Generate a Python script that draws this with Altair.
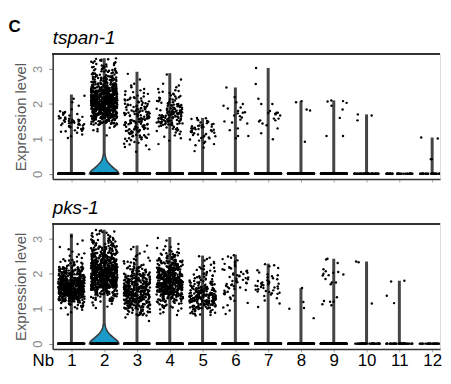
import altair as alt
import pandas as pd

# ---------------- data ----------------
CLUSTERS = list(range(1, 13))
BIN_START = 0.6      # histogram bins (for dense clouds) start here
BIN_WIDTH = 0.2

# tspan-1 : top of each violin (max expression), zero-cell counts, dense clouds as bin counts
TSPAN_MAX = [2.27, 3.31, 2.92, 2.88, 1.60, 2.47, 3.03, 2.08, 2.10, 1.70, 0.0, 1.04]
TSPAN_ZEROS = [200, 110, 200, 200, 200, 200, 200, 200, 200, 45, 35, 35]
TSPAN_HIST = {
    1: [0, 0, 4, 16, 22, 10, 2, 2, 1],
    2: [0, 0, 1, 6, 40, 110, 150, 150, 120, 70, 40, 25, 15, 8],
    3: [3, 8, 18, 25, 28, 28, 22, 15, 8, 4, 1, 1],
    4: [0, 2, 5, 12, 35, 45, 25, 15, 10, 4, 1, 1],
    5: [2, 6, 12, 18, 10, 1],
}
TSPAN_POINTS = {
    6: [2.47, 2.2, 2.05, 2.0, 1.95, 1.9, 1.87, 1.8, 1.76, 1.75, 1.73, 1.67, 1.65,
        1.61, 1.55, 1.5, 1.47, 1.44, 1.3, 1.25, 1.08, 1.08, 1.02],
    7: [3.03, 2.57, 2.15, 2.0, 2.0, 1.8, 1.75, 1.75, 1.74, 1.72, 1.7, 1.67, 1.58,
        1.58, 1.53, 1.53, 1.5, 1.44, 1.39, 1.3, 1.16, 0.99],
    8: [2.08, 2.05, 1.84, 1.81, 0.92],
    9: [2.1, 2.08, 2.07, 2.03, 1.95, 1.84, 1.6, 1.08, 1.08],
    10: [1.7, 1.67, 1.53],
    12: [1.04, 1.01, 0.94, 0.42, 0.42],
}

# pks-1
PKS_MAX = [3.15, 3.26, 2.81, 3.05, 2.52, 2.55, 2.29, 1.59, 2.43, 2.35, 1.80, 0.0]
PKS_ZEROS = [200, 110, 200, 200, 200, 200, 200, 200, 200, 50, 45, 35]
PKS_HIST = {
    1: [0, 3, 20, 80, 150, 130, 70, 50, 15, 6, 3, 2, 1],
    2: [0, 0, 5, 20, 50, 120, 160, 140, 90, 60, 40, 25, 12, 4],
    3: [2, 25, 50, 70, 80, 70, 50, 25, 12, 5, 3, 1],
    4: [0, 5, 15, 40, 90, 110, 100, 70, 40, 20, 8, 2, 1],
    5: [0, 15, 40, 70, 50, 25, 15, 10, 5, 3],
    6: [0, 2, 3, 4, 8, 12, 12, 10, 6, 4],
    7: [0, 0, 2, 3, 12, 15, 7, 3, 3],
}
PKS_POINTS = {
    8: [1.59, 1.19, 1.02, 1.0, 0.73],
    9: [2.43, 2.41, 2.31, 2.13, 2.07, 2.05, 2.03, 2.0, 1.98, 1.96, 1.95, 1.85,
        1.75, 1.75, 1.7, 1.33, 1.22, 1.2, 1.2, 1.13, 1.1],
    10: [2.35, 2.33, 1.15],
    11: [1.8, 1.78, 1.37, 1.16],
}

# outline of the filled violin base of cluster 2 (height, half width in cluster units)
VIOLIN_CLUSTER = 2
VIOLIN_Y = [0.0, 0.05, 0.10, 0.15, 0.20, 0.25, 0.30, 0.35, 0.40, 0.45, 0.50, 0.55]
VIOLIN_HALF = [0.45, 0.43, 0.38, 0.31, 0.25, 0.19, 0.14, 0.10, 0.07, 0.05, 0.035, 0.025]

GENES = ["tspan-1", "pks-1"]

# ---------------- tables ----------------
def expand(hist, maxv):
    vals = []
    for b, n in enumerate(hist):
        lo = BIN_START + b * BIN_WIDTH
        hi = min(lo + BIN_WIDTH, maxv)
        for k in range(n):
            vals.append(round(lo + (k + 0.5) / n * (hi - lo), 4))
    return vals


def cells(maxes, zeros, hist, pts):
    rows = []
    for c in CLUSTERS:
        vals = [0.0] * zeros[c - 1]
        if c in hist:
            vals += expand(hist[c], maxes[c - 1])
        else:
            vals += pts.get(c, [])
        for v in vals:
            rows.append({"cluster": c, "value": v})
    df = pd.DataFrame(rows)
    df["idx"] = range(len(df))
    return df


def tops(maxes):
    return pd.DataFrame({"cluster": CLUSTERS, "top": maxes})


violin_df = pd.DataFrame({"cluster": VIOLIN_CLUSTER, "y": VIOLIN_Y, "half": VIOLIN_HALF})

W, H = 390, 126
XDOM = [0.43, 12.24]
YDOM = [-0.15, 3.43]
FONT = "Liberation Sans"
FRAME = "#333333"

xscale = alt.Scale(domain=XDOM, nice=False, zero=False)
yscale = alt.Scale(domain=YDOM, nice=False, zero=False)


def panel(gene, maxes, zeros, hist, pts, bottom):
    if bottom:
        xaxis = alt.Axis(values=CLUSTERS, labelFontSize=17, labelColor="black", labelFont=FONT,
                         labelPadding=1, labelFlush=False, labelOverlap=False, tickSize=3,
                         tickColor="#aaaaaa", domainColor=FRAME, domainWidth=1.5, grid=False,
                         title="Nb", titleFont=FONT, titleFontSize=17, titleFontWeight="normal",
                         titleColor="black", titleAngle=0, titleAlign="right", titleBaseline="top",
                         titleX=1, titleY=4)
    else:
        xaxis = alt.Axis(values=CLUSTERS, labels=False, tickSize=3, tickColor="#aaaaaa",
                         domainColor=FRAME, domainWidth=1.5, grid=False, title=None)
    yaxis = alt.Axis(values=[0, 1, 2, 3], labelAngle=270, labelFontSize=13, labelFont=FONT,
                     labelColor="#8c8c8c", tickSize=4, tickColor="#8c8c8c", labelPadding=4,
                     labelOverlap=False, domainColor=FRAME, domainWidth=1.5, grid=False,
                     title="Expression level", titleFont=FONT, titleFontSize=15,
                     titleFontWeight="normal", titleColor="#595959", titlePadding=3)

    rules = alt.Chart(tops(maxes)).transform_filter("datum.top > 0").transform_calculate(
        base="0").mark_rule(color="#444444", strokeWidth=3).encode(
        x=alt.X("cluster:Q", scale=xscale, axis=xaxis),
        y=alt.Y("base:Q", scale=yscale, axis=yaxis),
        y2="top:Q",
    )
    violin = alt.Chart(violin_df).transform_calculate(
        left="datum.cluster - datum.half", right="datum.cluster + datum.half"
    ).mark_area(orient="horizontal", color="#1b9bc8", stroke="#3a3a3a", strokeWidth=1.5).encode(
        y=alt.Y("y:Q", scale=yscale, axis=yaxis),
        x=alt.X("left:Q", scale=xscale, axis=xaxis),
        x2="right:Q",
    )
    points = alt.Chart(cells(maxes, zeros, hist, pts)).transform_calculate(
        jx="datum.cluster + ((abs(sin(datum.idx * 12.9898 + datum.cluster * 78.233) * 43758.5453) % 1) - 0.5) * 0.8"
    ).mark_circle(size=6, color="black", opacity=1, clip=True).encode(
        x=alt.X("jx:Q", scale=xscale, axis=xaxis),
        y=alt.Y("value:Q", scale=yscale, axis=yaxis),
    )
    top_border = alt.Chart(tops(maxes)).mark_rule(color=FRAME, strokeWidth=1.5).encode(
        x=alt.value(0), x2=alt.value(W), y=alt.value(0)
    )
    return alt.layer(rules, violin, points, top_border).properties(
        width=W, height=H,
        title=alt.Title(gene, anchor="start", frame="group", font=FONT, fontSize=19,
                        fontStyle="italic", fontWeight="normal", color="black", offset=5),
    )


p1 = panel(GENES[0], TSPAN_MAX, TSPAN_ZEROS, TSPAN_HIST, TSPAN_POINTS, False)
p2 = panel(GENES[1], PKS_MAX, PKS_ZEROS, PKS_HIST, PKS_POINTS, True)

chart = alt.vconcat(p1, p2, spacing=15).properties(
    title=alt.Title("C", anchor="start", font=FONT, fontSize=17, fontWeight="bold",
                    color="black", offset=-7, dx=-5),
    padding={"left": 0, "top": 8, "right": 0, "bottom": 0},
).configure_view(stroke=None).configure_axis(labelOverlap=False).configure(background="white")

chart.save("out.html", embed_options={"renderer": "svg", "actions": False})
